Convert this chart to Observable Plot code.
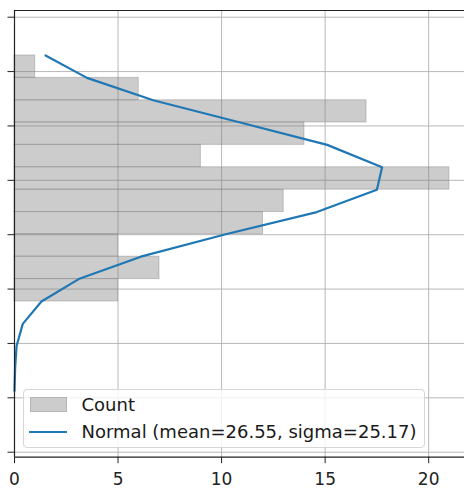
<!DOCTYPE html>
<html>
<head>
<meta charset="utf-8">
<script src="https://cdn.jsdelivr.net/npm/d3@7"></script>
<script src="https://cdn.jsdelivr.net/npm/@observablehq/plot@0.6"></script>
<style>
  html, body { margin: 0; padding: 0; background: white; }
  #wrap { position: relative; width: 464px; height: 488px; overflow: hidden; }
  #legend {
    position: absolute; left: 22.5px; top: 389px; width: 400px; height: 57px;
    border: 1px solid #d6d6d6; border-radius: 4px; background: rgba(255,255,255,0.8);
    font-family: "DejaVu Sans", sans-serif; font-size: 18px; color: #1a1a1a;
  }
  .lg-text { position: absolute; left: 58px; white-space: nowrap; }
</style>
</head>
<body>
<div id="wrap">
  <div id="chart"></div>
  <div id="legend">
    <div style="position:absolute;left:6px;top:7px;width:37px;height:15px;background:#cccccc;border:1px solid #b5b5b5;box-sizing:border-box;"></div>
    <div class="lg-text" style="top:4px;line-height:21px;">Count</div>
    <div style="position:absolute;left:5px;top:41px;width:38px;height:2px;background:#1f77b4;"></div>
    <div class="lg-text" style="top:31px;line-height:21px;">Normal (mean=26.55, sigma=25.17)</div>
  </div>
</div>
<script>
// Histogram bin edges (value axis, bottom to top) and counts per bin
const binEdges = [-30.7, -20.4, -10.1, 0.2, 10.4, 20.7, 31.0, 41.3, 51.6, 61.8, 72.1, 82.4];
const counts = [5, 7, 5, 12, 13, 21, 9, 14, 17, 6, 1];

// Normal curve, read at bin edges (top to bottom)
const curveY = [82.4, 72.1, 61.8, 51.6, 41.3, 31.0, 20.7, 10.4, 0.2, -10.1, -20.4, -30.7, -41.0, -51.2, -61.5, -71.8];
const curveX = [1.5, 3.5, 6.7, 10.9, 15.1, 17.75, 17.5, 14.6, 10.2, 6.1, 3.1, 1.3, 0.4, 0.1, 0.03, 0.0];

// Axis ticks
const xTicks = [0, 5, 10, 15, 20];
const yTicks = [-100, -75, -50, -25, 0, 25, 50, 75, 100];
const xDomain = [0, 21.73];
const yDomain = [-102.3, 103.08];

const bins = counts.map((c, i) => ({lo: binEdges[i], hi: binEdges[i + 1], count: c}));
const curve = curveY.map((y, i) => ({y, x: curveX[i]}));

const chart = Plot.plot({
  width: 464,
  height: 488,
  marginTop: 10,
  marginLeft: 14,
  marginRight: 0,
  marginBottom: 31.3,
  style: {fontFamily: "DejaVu Sans, sans-serif", fontSize: "17px", color: "#111", background: "white"},
  x: {domain: xDomain, ticks: xTicks, label: null},
  y: {domain: yDomain, ticks: yTicks, label: null},
  marks: [
    Plot.gridX(xTicks, {stroke: "#b0b0b0", strokeOpacity: 0.9, strokeWidth: 1}),
    Plot.gridY(yTicks, {stroke: "#b0b0b0", strokeOpacity: 0.9, strokeWidth: 1}),
    Plot.rectX(bins, {x1: 0, x2: "count", y1: "lo", y2: "hi", inset: 0,
      fill: "#808080", fillOpacity: 0.4, stroke: "#808080", strokeOpacity: 0.4, strokeWidth: 1}),
    Plot.line(curve, {x: "x", y: "y", stroke: "#1f77b4", strokeWidth: 2.2}),
    Plot.ruleX([xDomain[0]], {stroke: "#222", strokeWidth: 1.2}),
    Plot.ruleY([yDomain[0]], {stroke: "#222", strokeWidth: 1.2}),
    Plot.ruleY([yDomain[1]], {stroke: "#222", strokeWidth: 1.2}),
    Plot.axisX(xTicks, {anchor: "bottom", tickSize: 6.5, tickPadding: 9, stroke: "#222", fill: "#222", tickFormat: d => String(d)}),
    Plot.axisY(yTicks, {anchor: "left", tickSize: 6.5, stroke: "#222", tickFormat: () => ""})
  ]
});
document.getElementById("chart").appendChild(chart);
</script>
</body>
</html>
